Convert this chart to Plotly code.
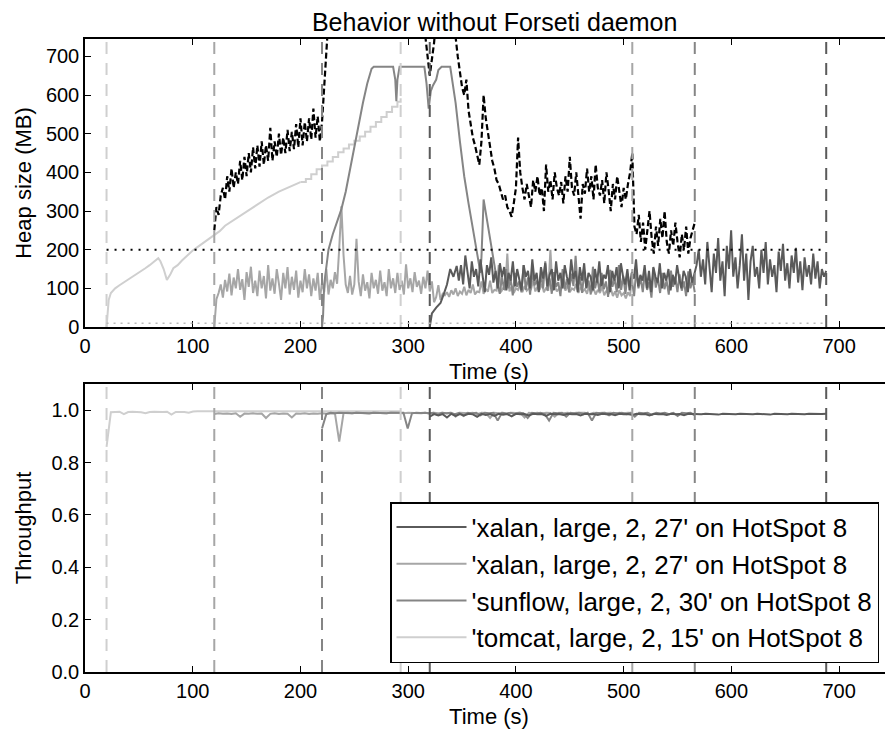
import numpy as np
import plotly.graph_objects as go

# ---------------- data ----------------
series_names = ["'xalan, large, 2, 27' on HotSpot 8",
                "'xalan, large, 2, 27' on HotSpot 8",
                "'sunflow, large, 2, 30' on HotSpot 8",
                "'tomcat, large, 2, 15' on HotSpot 8"]
series_colors = ["#5a5a5a", "#a6a6a6", "#858585", "#cfcfcf"]
# start / end time of each run (s)
run_start = [320, 120, 220, 20]
run_end = [688, 508, 566, 293]

heap_limit = [200]
heap_floor = [10]

# tomcat heap (MB)
tomcat_heap_t = [20, 21, 22, 24, 28, 32, 36, 40, 44, 48, 52, 56, 60, 64, 68, 70, 73, 76, 79, 82,
                 86, 90, 95, 100, 105, 110, 115, 120, 125, 130, 140, 150, 160, 170, 180, 190, 200,
                 205, 210, 215, 220, 225, 230, 235, 240, 245, 250, 255, 260, 265, 270, 275, 280,
                 285, 290, 293]
tomcat_heap = [0, 40, 70, 88, 100, 108, 115, 122, 130, 138, 145, 152, 160, 168, 178, 170, 150, 122,
               135, 152, 160, 172, 185, 198, 208, 218, 228, 236, 248, 262, 280, 300, 318, 335, 350,
               363, 375, 383, 395, 408, 418, 428, 440, 452, 462, 472, 482, 493, 505, 518, 530, 543,
               556, 570, 583, 592]
tomcat_step_from = 200   # from here on the heap grows in visible steps

# xalan (2nd) heap, 120 s .. 508 s
xalan2_heap = [0, 72, 88, 110, 76, 122, 92, 138, 82, 128, 100, 150, 96, 124, 70, 142, 104, 156, 88,
               120, 80, 146, 100, 132, 74, 160, 94, 126, 86, 150, 112, 70, 140, 100, 155, 84, 130,
               96, 146, 76, 120, 90, 150, 100, 136, 80, 126, 94, 140, 70, 116, 90, 150, 84, 122,
               100, 142, 112,
               205, 312, 185, 110,
               88, 132, 84, 110, 228, 118, 80, 136, 94, 116, 74, 140, 100, 122, 86, 146, 94, 116,
               80, 150, 100, 126, 88, 140, 96, 120, 84, 162, 100, 126, 90, 142, 104, 120, 86, 130,
               100, 146, 92, 118,
               64, 78, 108, 70, 86,
               82, 90, 78, 95, 84, 100, 80, 92, 86, 104, 82, 96, 88, 110, 84, 92, 90, 118, 86, 98,
               92, 120, 88, 96, 94, 160, 90, 100, 96, 190, 92, 104, 88, 100, 96, 110, 90, 106, 94,
               100, 98, 120, 92, 104, 96, 112, 90, 102, 94, 200, 96, 106, 92, 100, 98, 116, 94, 108,
               90, 100, 96, 112, 88, 104, 92, 98, 86, 108, 90, 100, 84, 96, 88, 104, 82, 94, 86, 100,
               80, 92, 76, 96, 82, 88, 74, 90, 80, 150]

# sunflow heap: climb / plateau part, then noisy part 383 s .. 566 s
sunflow_heap_t = [220, 221, 222, 224, 226, 230, 234, 238, 242, 246, 250, 254, 258, 262, 266, 268,
                  286, 288, 289, 290, 292, 315, 317, 319, 321, 323, 326, 328, 331, 339, 344, 348,
                  352, 356, 360, 364, 367, 368, 370, 373, 376, 379, 381]
sunflow_heap = [0, 30, 110, 160, 200, 240, 275, 305, 350, 410, 470, 520, 580, 630, 668, 673, 673,
                640, 584, 640, 673, 673, 630, 565, 610, 625, 640, 665, 673, 673, 580, 480, 390, 320,
                260, 190, 140, 180, 330, 280, 220, 170, 140]
sunflow_heap_tail = [110, 86, 130, 96, 150, 100, 124, 82, 140, 104, 118, 90, 160, 96, 128, 84, 146,
                     108, 120, 92, 136, 100, 170, 94, 126, 86, 142, 104, 116, 80, 150, 98, 124, 90,
                     138, 106, 184, 96, 130, 88, 144, 102, 120, 84, 156, 100, 126, 92, 140, 98, 118,
                     78, 148, 104, 124, 90, 160, 96, 132, 86, 138, 106, 120, 80, 150, 100, 128, 90,
                     142, 96, 116, 76, 152, 102, 126, 88, 140, 98, 120, 84, 146, 104, 130, 90, 136,
                     94, 118, 80, 144, 100, 122, 90]

# xalan (1st) heap: ramp, then noisy 347 s .. 688 s
xalan1_heap_t = [320, 322, 326, 330, 333, 336, 339, 342, 345]
xalan1_heap = [0, 35, 50, 62, 85, 110, 150, 130, 158]
xalan1_heap_tail = [120, 160, 110, 185, 140, 100, 170, 130, 150, 105, 175, 125, 90, 160, 135, 180,
                    115, 145, 100, 165, 130, 155, 95, 140, 120, 170, 105, 150, 125, 95, 160, 130,
                    145, 100, 175, 120, 140, 90, 155, 125, 165, 105, 135, 150, 95, 170, 120, 140,
                    100, 160, 130, 110, 175, 125, 145, 90, 155, 120, 165, 100, 140, 130, 95, 150,
                    115, 170, 105, 135, 125, 160, 90, 145, 120, 155, 100, 165, 130, 110, 150, 95,
                    140, 125, 175, 105, 135, 120, 160, 100, 145, 90, 155, 130, 115, 165, 100, 140,
                    120, 150, 95, 135, 110, 160, 125, 100, 145, 130, 90, 150, 115, 135,
                    160, 200, 130, 175, 110, 220, 150, 90, 190, 140, 230, 120, 170, 80, 210, 150,
                    250, 130, 180, 100, 160, 240, 120, 190, 70, 170, 210, 130, 155, 100, 200, 140,
                    220, 110, 175, 130, 160, 90, 195, 145, 215, 120, 165, 100, 185, 140, 205, 115,
                    170, 95, 180, 130, 160, 110, 190, 125, 170, 100, 150, 130, 145]

# total heap (black dashed), three visible pieces
total_heap_a = [250, 310, 290, 340, 360, 330, 390, 350, 410, 360, 400, 370, 430, 380, 440, 390,
                450, 400, 465, 410, 470, 415, 480, 420, 470, 430, 515, 430, 480, 440, 500, 445,
                490, 450, 510, 455, 505, 460, 525, 465, 540, 470, 530, 480, 540, 485, 565, 490,
                545, 480, 530, 610, 700, 800]          # 120 s .. 226 s
total_heap_b = [800, 740, 700, 650, 690, 735, 800]     # 314 s .. 326 s
total_heap_c = [800, 740, 700, 660, 620, 600, 640, 560, 520, 490,
                470, 440, 420, 480, 600, 540, 500, 470, 430, 410,
                380, 370, 350, 330, 340, 310, 300, 285, 320, 360,
                490, 400, 360, 330, 370, 340, 310, 380, 350, 390,
                340, 360, 300, 420, 350, 380, 330, 400, 360, 340,
                375, 320, 390, 350, 440, 360, 340, 400, 330, 280,
                370, 345, 410, 350, 390, 330, 420, 360, 340, 380,
                320, 400, 355, 300, 370, 330, 390, 345, 310, 360,
                330, 370, 400, 450, 260, 240, 290, 220, 270, 200,
                250, 300, 230, 190, 260, 210, 280, 230, 300, 220,
                190, 250, 210, 270, 220, 180, 240, 200, 260, 190,
                230, 250, 270]                         # 342 s .. 566 s

# throughput
tomcat_tp = [0.86, 0.992, 0.993, 0.994, 0.985, 0.993, 0.994, 0.993, 0.992, 0.988,
             0.993, 0.994, 0.993, 0.993, 0.994, 0.983, 0.993, 0.994, 0.993, 0.990,
             0.995, 0.996, 0.996, 0.995, 0.996, 0.996, 0.995, 0.996, 0.996, 0.995,
             0.996, 0.996, 0.995, 0.996, 0.996, 0.996, 0.995, 0.996, 0.996, 0.995,
             0.996, 0.996, 0.995, 0.996, 0.996, 0.996, 0.995, 0.996, 0.996, 0.995,
             0.996, 0.996, 0.995, 0.996, 0.996, 0.996, 0.995, 0.996, 0.996, 0.995,
             0.996, 0.996, 0.995, 0.996, 0.996, 0.996, 0.995, 0.996, 0.996]
xalan2_tp = [0.985, 0.988, 0.986, 0.987, 0.985, 0.988, 0.975, 0.987, 0.986, 0.988,
             0.986, 0.987, 0.97, 0.986, 0.988, 0.985, 0.987, 0.986, 0.972, 0.987,
             0.986, 0.988, 0.985, 0.987, 0.986, 0.988, 0.986, 0.987, 0.988, 0.88,
             0.989, 0.99, 0.988, 0.99, 0.989, 0.99, 0.987, 0.99, 0.989, 0.99,
             0.988, 0.99, 0.989, 0.99, 0.988, 0.99, 0.989, 0.99, 0.988, 0.99,
             0.986, 0.99, 0.988, 0.99, 0.987, 0.99, 0.975, 0.99, 0.989, 0.988,
             0.99, 0.985, 0.99, 0.989, 0.97, 0.99, 0.988, 0.99, 0.985, 0.99,
             0.989, 0.99, 0.972, 0.99, 0.988, 0.99, 0.986, 0.99, 0.989, 0.975,
             0.99, 0.988, 0.99, 0.987, 0.99, 0.989, 0.99, 0.985, 0.99, 0.988,
             0.99, 0.989, 0.99, 0.986, 0.99, 0.988, 0.99, 0.989]
sunflow_tp = [0.93, 0.985, 0.99, 0.988, 0.99, 0.989, 0.99, 0.988, 0.99, 0.989,
              0.99, 0.988, 0.99, 0.989, 0.99, 0.988, 0.99, 0.989, 0.99, 0.99, 0.93,
              0.988, 0.99, 0.989, 0.99, 0.988, 0.99, 0.982, 0.99, 0.988, 0.99,
              0.985, 0.99, 0.978, 0.99, 0.987, 0.99, 0.98, 0.99, 0.988, 0.99,
              0.96, 0.99, 0.987, 0.99, 0.985, 0.99, 0.988, 0.97, 0.99, 0.987,
              0.99, 0.985, 0.96, 0.99, 0.988, 0.99, 0.975, 0.99, 0.987, 0.99,
              0.985, 0.99, 0.96, 0.99, 0.988, 0.99, 0.98, 0.99, 0.987, 0.99,
              0.985, 0.99, 0.975, 0.99, 0.988, 0.99, 0.982, 0.99, 0.987, 0.99,
              0.985, 0.99, 0.978, 0.99, 0.988, 0.99, 0.98]
xalan1_tp = [0.975, 0.985, 0.98, 0.985, 0.972, 0.986, 0.978, 0.985, 0.98, 0.986,
             0.984, 0.975, 0.986, 0.982, 0.985, 0.978, 0.986, 0.983, 0.985, 0.976,
             0.986, 0.984, 0.985, 0.98, 0.986, 0.984, 0.985, 0.978, 0.986, 0.984,
             0.985, 0.982, 0.986, 0.984, 0.985, 0.98, 0.986, 0.984, 0.985, 0.982,
             0.986, 0.984, 0.985, 0.981, 0.986, 0.984, 0.985, 0.982, 0.986, 0.984,
             0.985, 0.98, 0.986, 0.984, 0.985, 0.982, 0.986, 0.984, 0.985, 0.981,
             0.986, 0.985, 0.986, 0.984, 0.986, 0.985, 0.986, 0.983, 0.986, 0.985,
             0.986, 0.984, 0.986, 0.985, 0.986, 0.984, 0.986, 0.985, 0.986, 0.983,
             0.986, 0.985, 0.986, 0.984, 0.986, 0.985, 0.986, 0.984, 0.986, 0.985,
             0.986, 0.985, 0.986]

x_ticks = [0, 100, 200, 300, 400, 500, 600, 700]
heap_ticks = [0, 100, 200, 300, 400, 500, 600, 700]
tp_ticks = [0.0, 0.2, 0.4, 0.6, 0.8, 1.0]


def grid(t0, t1, vals):
    return np.linspace(t0, t1, len(vals))


FONT = "Liberation Sans, Arial, sans-serif"
C_X1, C_X2, C_SF, C_TC = series_colors

fig = go.Figure()

# ---------------- heap (top) ----------------
hk = dict(xaxis="x", yaxis="y", mode="lines", showlegend=False, hoverinfo="skip")
k = tomcat_heap_t.index(tomcat_step_from)
fig.add_trace(go.Scatter(x=tomcat_heap_t[:k + 1], y=tomcat_heap[:k + 1],
                         line=dict(color=C_TC, width=2), **hk))
fig.add_trace(go.Scatter(x=tomcat_heap_t[k:], y=tomcat_heap[k:],
                         line=dict(color=C_TC, width=2, shape="hv"), **hk))
fig.add_trace(go.Scatter(x=grid(120, 508, xalan2_heap), y=xalan2_heap, line=dict(color=C_X2, width=2), **hk))
fig.add_trace(go.Scatter(x=sunflow_heap_t + list(grid(383, 566, sunflow_heap_tail)),
                         y=sunflow_heap + sunflow_heap_tail, line=dict(color=C_SF, width=2), **hk))
fig.add_trace(go.Scatter(x=xalan1_heap_t + list(grid(347, 688, xalan1_heap_tail)),
                         y=xalan1_heap + xalan1_heap_tail, line=dict(color=C_X1, width=2), **hk))
for t0, t1, vals in [(120, 226, total_heap_a), (314, 326, total_heap_b), (342, 566, total_heap_c)]:
    fig.add_trace(go.Scatter(x=grid(t0, t1, vals), y=vals,
                             line=dict(color="black", width=2.2, dash="6px,3px"), **hk))

# ---------------- throughput (bottom) ----------------
tp = [(xalan1_tp, 0), (xalan2_tp, 1), (sunflow_tp, 2), (tomcat_tp, 3)]
draw_order = [3, 1, 2, 0]
traces = {}
for vals, i in tp:
    traces[i] = go.Scatter(x=grid(run_start[i], run_end[i], vals), y=vals, xaxis="x2", yaxis="y2",
                           mode="lines", name=series_names[i], legendgroup=f"g{i}",
                           legendrank=i + 1, line=dict(color=series_colors[i], width=2),
                           hoverinfo="skip")
for i in draw_order:
    fig.add_trace(traces[i])

# ---------------- reference lines ----------------
shapes = []
for i in range(4):
    for tt in (run_start[i], run_end[i]):
        for xr, yr in (("x", "y domain"), ("x2", "y2 domain")):
            shapes.append(dict(type="line", xref=xr, yref=yr, x0=tt, x1=tt, y0=0, y1=1,
                               line=dict(color=series_colors[i], width=2, dash="12px,9px"),
                               layer="above"))
t_first = min(run_start)
t_last = max(run_end)
shapes.append(dict(type="line", xref="x", yref="y", x0=t_first, x1=t_last, y0=heap_limit[0], y1=heap_limit[0],
                   line=dict(color="black", width=2, dash="2px,6px")))
shapes.append(dict(type="line", xref="x", yref="y", x0=t_first, x1=t_last, y0=heap_floor[0], y1=heap_floor[0],
                   line=dict(color="#bbbbbb", width=1.5, dash="2px,5px")))

axis_common = dict(showline=True, linecolor="black", linewidth=1.5, mirror="ticks",
                   ticks="inside", ticklen=6, tickwidth=1.2, tickcolor="black",
                   showgrid=False, zeroline=False, automargin=False,
                   tickfont=dict(family=FONT, size=20, color="black"))
title_font = dict(family=FONT, size=22, color="black")

# the page body adds an 8 px offset: the figure is sized/margined so the plot
# areas land where the reference has them
fig.update_layout(
    width=885, height=724,
    margin=dict(l=77, r=0, t=31, b=60),
    paper_bgcolor="white", plot_bgcolor="white",
    title=dict(text="Behavior without Forseti daemon", x=0.507, xref="paper", xanchor="center",
               y=1 - 14 / 724, yanchor="middle", font=dict(family=FONT, size=25, color="black")),
    xaxis=dict(domain=[0, 1], anchor="y", range=[0, 750], tickvals=x_ticks,
               title=dict(text="Time (s)", font=title_font, standoff=8), **axis_common),
    yaxis=dict(domain=[0.545, 1], anchor="x", range=[0, 745], tickvals=heap_ticks,
               title=dict(text="Heap size (MB)", font=title_font, standoff=8), **axis_common),
    xaxis2=dict(domain=[0, 1], anchor="y2", range=[0, 750], tickvals=x_ticks,
                title=dict(text="Time (s)", font=title_font, standoff=8), **axis_common),
    yaxis2=dict(domain=[0, 0.455], anchor="x2", range=[0, 1.1], tickvals=tp_ticks, tickformat=".1f",
                title=dict(text="Throughput", font=title_font, standoff=14), **axis_common),
    shapes=shapes,
    showlegend=True,
    legend=dict(x=(382 - 77) / 808, y=(664 - 494) / 633, xanchor="left", yanchor="top",
                bgcolor="white", bordercolor="black", borderwidth=1.5,
                font=dict(family=FONT, size=26, color="black"), tracegroupgap=1,
                itemwidth=70, traceorder="normal"),
)

fig.write_html("out.html")
